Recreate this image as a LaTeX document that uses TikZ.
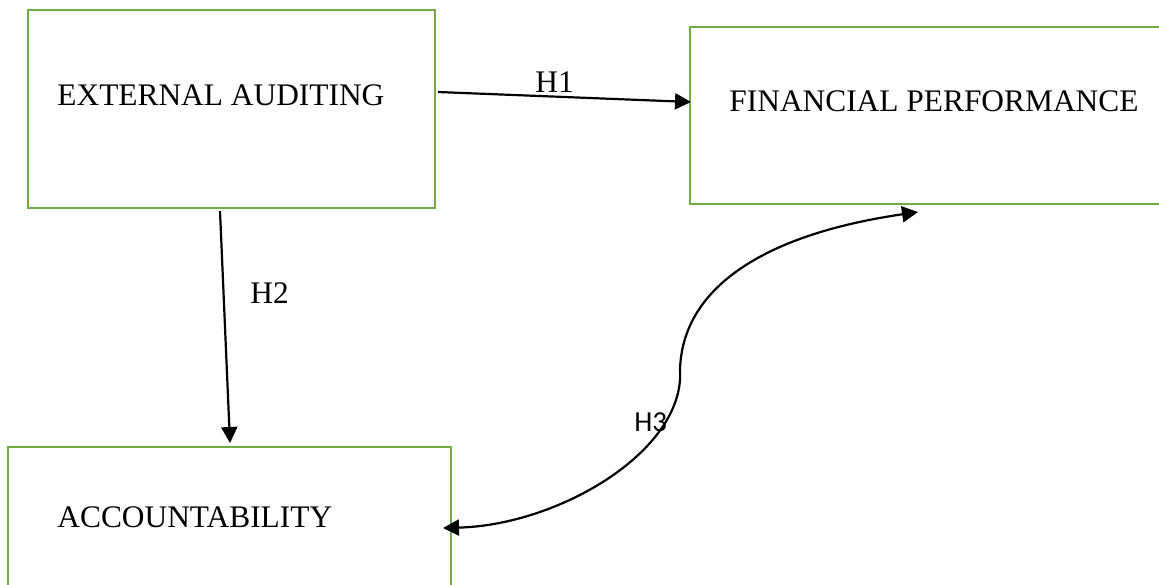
\documentclass[tikz,border=0pt]{standalone}
\usepackage{fontspec}
\setmainfont{Liberation Serif}
\newfontfamily\hlabelfont{Carlito}
\usepackage{tikz}
\usetikzlibrary{arrows.meta, positioning}
\definecolor{boxgreen}{RGB}{112,173,71}

\begin{document}
\begin{tikzpicture}[x=0.5pt, y=-0.5pt,
        box/.style={draw=boxgreen, line width=1.3pt, fill=none, inner sep=0pt},
        boxtext/.style={anchor=base west, inner sep=0pt, font=\fontsize{15.7}{18}\selectfont},
        hyp/.style={anchor=base west, inner sep=0pt, font=\fontsize{15.7}{18}\selectfont},
        link/.style={line width=1.1pt, -{Triangle[length=8pt, width=8pt]}}]
    \clip (0,0) rectangle (1159,584);

    % boxes
    \node[box, minimum width=203.5pt, minimum height=99pt] (audit) at (231.5,109) {};
    \node[box, minimum width=240pt, minimum height=88.5pt] (perf) at (930,115.5) {};
    \node[box, minimum width=221.5pt, minimum height=86.5pt] (acc) at (229.5,533.5) {};

    \node[boxtext] (audit-text) at (57,105) {EXTERNAL AUDITING};
    \node[boxtext] (perf-text) at (729,111) {FINANCIAL PERFORMANCE};
    \node[boxtext] (acc-text) at (57,527) {ACCOUNTABILITY};

    % end points on the box sides
    \coordinate (h1-start) at (438,92);
    \coordinate (h1-end) at (691,102);
    \coordinate (h2-start) at (220,211);
    \coordinate (h2-end) at (230,443);
    \coordinate (h3-start) at (443,528);
    \coordinate (h3-mid) at (680,370);
    \coordinate (h3-end) at (918,212);

    \draw[link] (h1-start) -- (h1-end);
    \draw[link] (h2-start) -- (h2-end);
    \draw[link, {Triangle[length=8pt, width=8pt]}-{Triangle[length=8pt, width=8pt]}]
        (h3-start) .. controls (560,525) and (685,450) .. (h3-mid)
        .. controls (682,290) and (760,235) .. (h3-end);

    \node[hyp] (h1) at (535,92) {H1};
    \node[hyp] (h2) at (250,303) {H2};
    \node[anchor=base west, inner sep=0pt, font=\hlabelfont\fontsize{14.5}{17}\selectfont] (h3) at (634,431) {H3};
\end{tikzpicture}
\end{document}
